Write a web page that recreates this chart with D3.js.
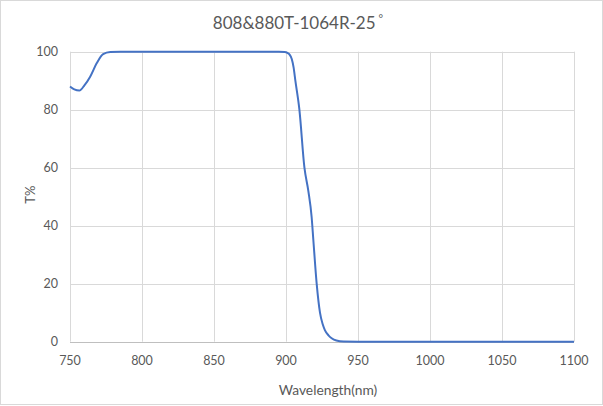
<!DOCTYPE html>
<html>
<head>
<meta charset="utf-8">
<script src="https://cdn.jsdelivr.net/npm/d3@7"></script>
<style>
  body { margin: 0; background: #fff; }
  svg text { font-family: Lato, "Open Sans", sans-serif; fill: #595959; }
</style>
</head>
<body>
<div id="chart"></div>
<script>
// values
var wavelength = [750, 753, 756.5, 760, 764, 768.5, 773, 778, 785, 800, 850, 895, 899, 901, 902.5, 904, 905.3, 906.5, 909.3, 912.8, 915.5, 917.8, 919, 921.3, 923.6, 925.5, 927, 929.5, 931.7, 935, 940, 950, 1000, 1050, 1100];
var transmission = [88, 87, 86.6, 88.4, 91.4, 96, 99.2, 99.9, 100, 100, 100, 100, 99.9, 99.6, 99, 97.5, 94.5, 90, 80, 60, 52, 43, 35, 20, 10, 6, 4, 2.2, 1.2, 0.4, 0.05, 0, 0, 0, 0];
var xTicks = [750, 800, 850, 900, 950, 1000, 1050, 1100];
var yTicks = [0, 20, 40, 60, 80, 100];
var title = "808&880T-1064R-25";

var W = 603, H = 406;
var margin = {top: 51.7, right: 29, bottom: 64.3, left: 70};

var svg = d3.select("#chart").append("svg")
  .attr("width", W)
  .attr("height", H);

// chart area border
svg.append("rect")
  .attr("x", 0.5).attr("y", 0.5)
  .attr("width", W - 1).attr("height", H - 2)
  .attr("fill", "#fff")
  .attr("stroke", "#d9d9d9");

var x = d3.scaleLinear().domain([750, 1100]).range([margin.left, W - margin.right]);
var y = d3.scaleLinear().domain([0, 100]).range([H - margin.bottom, margin.top]);

// gridlines
svg.append("g").selectAll("line.h")
  .data(yTicks.filter(function(d) { return d > 0; }))
  .enter().append("line")
  .attr("x1", x(750)).attr("x2", x(1100))
  .attr("y1", function(d) { return Math.round(y(d)) + 0.5; })
  .attr("y2", function(d) { return Math.round(y(d)) + 0.5; })
  .attr("stroke", "#d9d9d9");

svg.append("g").selectAll("line.v")
  .data(xTicks)
  .enter().append("line")
  .attr("x1", function(d) { return Math.round(x(d)) + 0.5; })
  .attr("x2", function(d) { return Math.round(x(d)) + 0.5; })
  .attr("y1", y(100)).attr("y2", y(0))
  .attr("stroke", "#d9d9d9");

// bottom axis line
svg.append("line")
  .attr("x1", x(750)).attr("x2", x(1100))
  .attr("y1", Math.round(y(0)) + 0.5).attr("y2", Math.round(y(0)) + 0.5)
  .attr("stroke", "#bfbfbf");

// tick labels
svg.append("g").selectAll("text")
  .data(xTicks)
  .enter().append("text")
  .attr("x", function(d) { return x(d); })
  .attr("y", 361)
  .attr("dy", "0.35em")
  .attr("text-anchor", "middle")
  .style("font-size", "12.5px")
  .text(function(d) { return d; });

svg.append("g").selectAll("text")
  .data(yTicks)
  .enter().append("text")
  .attr("x", 58)
  .attr("y", function(d) { return y(d); })
  .attr("dy", "0.35em")
  .attr("text-anchor", "end")
  .style("font-size", "12.5px")
  .text(function(d) { return d; });

// axis titles
svg.append("text")
  .attr("transform", "translate(30," + (y(50) - 2) + ") rotate(-90)")
  .attr("dy", "0.35em")
  .attr("text-anchor", "middle")
  .style("font-size", "13px")
  .text("T%");

svg.append("text")
  .attr("x", (x(750) + x(1100)) / 2 + 6)
  .attr("y", 390)
  .attr("dy", "0.35em")
  .attr("text-anchor", "middle")
  .style("font-size", "13.8px")
  .text("Wavelength(nm)");

// chart title
var t = svg.append("text")
  .attr("x", 298)
  .attr("y", 23)
  .attr("dy", "0.35em")
  .attr("text-anchor", "middle")
  .style("font-size", "17px")
  .text(title);
t.append("tspan")
  .attr("dx", 3)
  .attr("dy", -6)
  .style("font-size", "11px")
  .text("°");

// transmission curve
var pts = wavelength.map(function(d, i) { return [d, transmission[i]]; });
var line = d3.line()
  .x(function(d) { return x(d[0]); })
  .y(function(d) { return y(d[1]); })
  .curve(d3.curveMonotoneX);

svg.append("path")
  .datum(pts)
  .attr("d", line)
  .attr("fill", "none")
  .attr("stroke", "#4472c4")
  .attr("stroke-width", 2);
</script>
</body>
</html>
